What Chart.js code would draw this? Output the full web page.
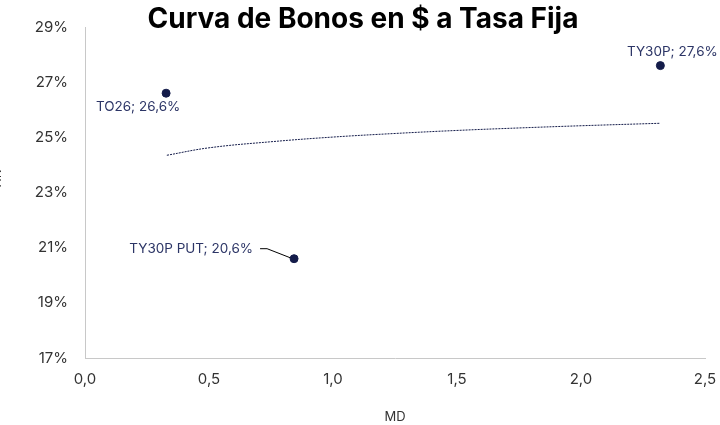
<!DOCTYPE html>
<html>
<head>
<meta charset="utf-8">
<script src="https://cdn.jsdelivr.net/npm/chart.js@4.4.1/dist/chart.umd.min.js"></script>
<style>
  html, body { margin: 0; padding: 0; background: #fff; }
  canvas { display: block; }
</style>
</head>
<body>
<canvas id="curve" width="720" height="425"></canvas>
<script>
// Bonos a tasa fija: duración modificada (MD) vs TIR (%)
const bondNames = ['TO26', 'TY30P PUT', 'TY30P'];
const bondMD = [0.327, 0.843, 2.32];
const bondTIR = [26.6, 20.6, 27.6];

// Línea de tendencia (logarítmica)
const trendMD = [0.33, 0.5, 0.75, 1.0, 1.25, 1.5, 1.75, 2.0, 2.32];
const trendTIR = [24.35, 24.62, 24.84, 25.01, 25.14, 25.25, 25.34, 25.42, 25.51];

const xTicks = [0, 0.5, 1.0, 1.5, 2.0, 2.5];
const yTicks = [17, 19, 21, 23, 25, 27, 29];

const navy = '#141c4a';
const labelColor = '#2c3566';
const fontFamily = 'Inter, "Noto Sans", sans-serif';

const fmt = (v, d) => v.toFixed(d).replace('.', ',');

// Etiquetas de datos, título y título del eje Y
const labelsPlugin = {
  id: 'bondLabels',
  afterDatasetsDraw(chart) {
    const ctx = chart.ctx;
    const pts = chart.getDatasetMeta(1).data;
    ctx.save();
    ctx.font = '13.5px ' + fontFamily;
    ctx.fillStyle = labelColor;
    ctx.textBaseline = 'middle';

    // TO26: debajo, a la izquierda
    let p = pts[0];
    ctx.textAlign = 'center';
    ctx.fillText(bondNames[0] + '; ' + fmt(bondTIR[0], 1) + '%', p.x - 28, p.y + 14);

    // TY30P PUT: a la izquierda con línea guía
    p = pts[1];
    ctx.textAlign = 'right';
    ctx.fillText(bondNames[1] + '; ' + fmt(bondTIR[1], 1) + '%', p.x - 41, p.y - 10);
    ctx.strokeStyle = '#000';
    ctx.lineWidth = 1;
    ctx.beginPath();
    ctx.moveTo(p.x - 34, p.y - 10);
    ctx.lineTo(p.x - 27, p.y - 10);
    ctx.lineTo(p.x - 4, p.y - 1);
    ctx.stroke();

    // TY30P: encima
    p = pts[2];
    ctx.textAlign = 'center';
    ctx.fillText(bondNames[2] + '; ' + fmt(bondTIR[2], 1) + '%', p.x + 12, p.y - 14);

    // título
    ctx.font = 'bold 28px ' + fontFamily;
    ctx.fillStyle = '#000';
    ctx.textAlign = 'center';
    ctx.fillText('Curva de Bonos en $ a Tasa Fija', 363, 20);

    // título eje Y (cortado en el borde)
    ctx.font = '13px ' + fontFamily;
    ctx.fillStyle = '#333';
    ctx.translate(-3, 180);
    ctx.rotate(-Math.PI / 2);
    ctx.fillText('TIR', 0, 0);
    ctx.restore();
  }
};

new Chart(document.getElementById('curve'), {
  type: 'scatter',
  data: {
    datasets: [
      {
        type: 'line',
        data: trendMD.map((x, i) => ({ x: x, y: trendTIR[i] })),
        borderColor: navy,
        borderWidth: 1,
        borderDash: [2, 1],
        pointRadius: 0,
        tension: 0.4,
        fill: false
      },
      {
        data: bondMD.map((x, i) => ({ x: x, y: bondTIR[i] })),
        backgroundColor: navy,
        borderColor: navy,
        pointRadius: 4,
        pointHoverRadius: 4
      }
    ]
  },
  options: {
    responsive: false,
    animation: false,
    layout: { padding: { top: 27, right: 15, left: 0, bottom: 0 } },
    plugins: {
      legend: { display: false },
      tooltip: { enabled: false }
    },
    scales: {
      x: {
        type: 'linear',
        min: 0,
        max: 2.5,
        afterBuildTicks: (s) => { s.ticks = xTicks.map(v => ({ value: v })); },
        afterFit: (s) => { s.height = 67; s.paddingLeft = 0; s.paddingRight = 0; },
        grid: { display: false, drawTicks: false },
        border: { color: '#c8c8c8', width: 1 },
        ticks: {
          padding: 12,
          color: '#333',
          font: { family: fontFamily, size: 15 },
          callback: (v) => fmt(v, 1)
        },
        title: {
          display: true,
          text: 'MD',
          color: '#333',
          font: { family: fontFamily, size: 13 },
          padding: { top: 12, bottom: 0 }
        }
      },
      y: {
        min: 17,
        max: 29,
        afterBuildTicks: (s) => { s.ticks = yTicks.map(v => ({ value: v })); },
        afterFit: (s) => { s.width = 85; },
        grid: { display: false, drawTicks: false },
        border: { color: '#c8c8c8', width: 1 },
        ticks: {
          padding: 17,
          color: '#333',
          font: { family: fontFamily, size: 15 },
          callback: (v) => v + '%'
        }
      }
    }
  },
  plugins: [labelsPlugin]
});
</script>
</body>
</html>
